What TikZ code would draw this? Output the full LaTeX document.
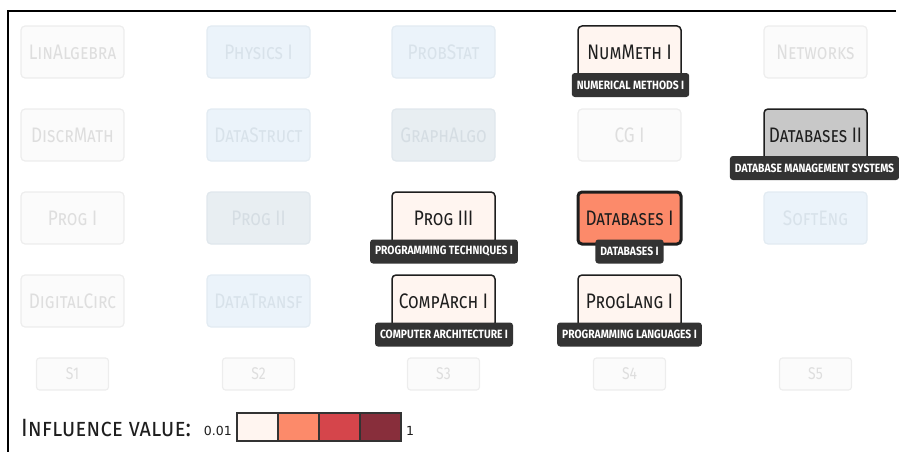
\documentclass[tikz,border=0pt]{standalone}
\usepackage{fontspec}
\setmainfont{Fira Sans}
\newfontfamily\scfont[Letters=SmallCaps,FakeStretch=0.82]{Fira Sans}
\newfontfamily\legfont[Letters=SmallCaps,FakeStretch=0.9]{Fira Sans}
\newfontfamily\lblfont[FakeStretch=0.86]{Fira Sans}
\newfontfamily\numfont{DejaVu Sans}
\definecolor{cfw}{HTML}{FBFBFB}
\definecolor{cfwb}{HTML}{EDEDED}
\definecolor{cfwt}{HTML}{DEDEDE}
\definecolor{cfb}{HTML}{EBF3FA}
\definecolor{cfbb}{HTML}{E2EBF2}
\definecolor{cfbt}{HTML}{D8E2EA}
\definecolor{cfg}{HTML}{E8EEF2}
\definecolor{cfgb}{HTML}{E0E7EC}
\definecolor{cfgt}{HTML}{D5DDE3}
\definecolor{cact}{HTML}{FFF5F0}
\definecolor{csal}{HTML}{FC8A6A}
\definecolor{cgray}{HTML}{C8C8C8}
\definecolor{cdark}{HTML}{1E1E1E}
\definecolor{clab}{HTML}{333333}
\definecolor{cred}{HTML}{D5454B}
\definecolor{cwine}{HTML}{882E3B}
\tikzset{
  course/.style={rectangle, rounded corners=4pt, minimum width=103pt, minimum height=52pt,
    inner sep=0pt, font=\scfont\fontsize{21}{21}\selectfont},
  fadew/.style={course, draw=cfwb, line width=1.2pt, fill=cfw, text=cfwt},
  fadeb/.style={course, draw=cfbb, line width=1.2pt, fill=cfb, text=cfbt},
  fadeg/.style={course, draw=cfgb, line width=1.2pt, fill=cfg, text=cfgt},
  active/.style={course, draw=cdark, line width=1.5pt, fill=cact, text=cdark},
  lbl/.style={rectangle, rounded corners=3pt, fill=clab, text=white, inner xsep=5pt, inner ysep=0pt,
    minimum height=24pt, font=\lblfont\bfseries\fontsize{12}{12}\selectfont},
  sem/.style={rectangle, rounded corners=3pt, minimum width=72pt, minimum height=32pt, inner sep=0pt,
    draw=cfwb, line width=1.2pt, fill=cfw, text=cfwt, font=\scfont\fontsize{17}{17}\selectfont},
  legcell/.style={rectangle, draw=clab, line width=1.4pt, minimum width=41pt, minimum height=28pt, inner sep=0pt},
  legnum/.style={inner sep=0pt, text=cdark, font=\numfont\fontsize{12.5}{12.5}\selectfont},
  frame/.style={line width=1.2pt, draw=black}
}
\begin{document}
\begin{tikzpicture}[x=1pt,y=-1pt]
\useasboundingbox (0,0) rectangle (899,452);
\coordinate (ftl) at (8,11);
\coordinate (ftr) at (896,11);
\coordinate (fbl) at (8,452);
\draw[frame] (ftr) -- (ftl) -- (fbl);

% row 1
\node[fadew] (linalg) at (72.5,52) {LinAlgebra};
\node[fadeb] (phys) at (258.5,52) {Physics I};
\node[fadeb] (prob) at (443.5,52) {ProbStat};
\node[active] (num) at (629.5,52) {NumMeth I};
\node[fadew] (net) at (815.5,52) {Networks};
% row 2
\node[fadew] (discr) at (72.5,135) {DiscrMath};
\node[fadeb] (dstruct) at (258.5,135) {DataStruct};
\node[fadeg] (graph) at (443.5,135) {GraphAlgo};
\node[fadew] (cg) at (629.5,135) {CG I};
\node[active, fill=cgray] (db2) at (815.5,135) {Databases II};
% row 3
\node[fadew] (prog1) at (72.5,218) {Prog I};
\node[fadeg] (prog2) at (258.5,218) {Prog II};
\node[active] (prog3) at (443.5,218) {Prog III};
\node[active, fill=csal, line width=3pt] (db1) at (629.5,218) {Databases I};
\node[fadeb] (soft) at (815.5,218) {SoftEng};
% row 4
\node[fadew] (digi) at (72.5,301) {DigitalCirc};
\node[fadeb] (dtrans) at (258.5,301) {DataTransf};
\node[active] (comp) at (443.5,301) {CompArch I};
\node[active] (plang) at (629.5,301) {ProgLang I};

% labels
\node[lbl] (lnum) at (630.5,85) {NUMERICAL METHODS I};
\node[lbl] (ldb2) at (814.5,168) {DATABASE MANAGEMENT SYSTEMS};
\node[lbl] (lprog3) at (444,251.5) {PROGRAMMING TECHNIQUES I};
\node[lbl] (ldb1) at (629.5,251.5) {DATABASES I};
\node[lbl] (lcomp) at (444,334.5) {COMPUTER ARCHITECTURE I};
\node[lbl] (lplang) at (629.5,334.5) {PROGRAMMING LANGUAGES I};

% semesters
\node[sem] (s1) at (72.5,374) {S1};
\node[sem] (s2) at (258.5,374) {S2};
\node[sem] (s3) at (443.5,374) {S3};
\node[sem] (s4) at (629.5,374) {S4};
\node[sem] (s5) at (815.5,374) {S5};

% legend
\node[anchor=west, inner sep=0pt, text=cdark, font=\legfont\fontsize{25}{25}\selectfont] (legt) at (21,428) {Influence value:};
\node[legnum, anchor=east] (lmin) at (232,431) {0.01};
\node[legcell, fill=cact] (c1) at (257.5,427) {};
\node[legcell, fill=csal] (c2) at (298.5,427) {};
\node[legcell, fill=cred] (c3) at (339.5,427) {};
\node[legcell, fill=cwine] (c4) at (380.5,427) {};
\node[legnum, anchor=west] (lmax) at (406,431) {1};
\end{tikzpicture}
\end{document}
